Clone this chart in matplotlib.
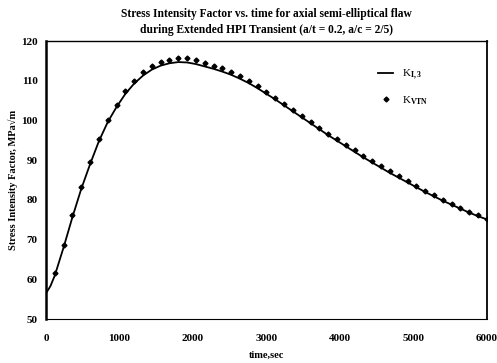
import numpy as np
import matplotlib
matplotlib.use("Agg")
import matplotlib.pyplot as plt

plt.rcParams["font.family"] = ["Liberation Serif", "DejaVu Serif"]
plt.rcParams["mathtext.fontset"] = "custom"
plt.rcParams["mathtext.rm"] = "Liberation Serif:bold"
plt.rcParams["mathtext.it"] = "Liberation Serif:bold"
plt.rcParams["mathtext.bf"] = "Liberation Serif:bold"

# K_I,3 curve (solid line)
line_t = [0, 60, 120, 240, 360, 480, 600, 720, 840, 960, 1080, 1200, 1320, 1440,
          1560, 1680, 1800, 1920, 2040, 2160, 2280, 2400, 2520, 2640, 2760, 2880,
          3000, 3120, 3240, 3360, 3480, 3600, 3720, 3840, 3960, 4080, 4200, 4320,
          4440, 4560, 4680, 4800, 4920, 5040, 5160, 5280, 5400, 5520, 5640, 5760,
          5880, 6000]
line_k = [56.5, 58.3, 61.0, 68.1, 75.7, 82.8, 89.0, 94.8, 99.6, 103.4, 106.7, 109.3,
          111.3, 112.8, 113.8, 114.4, 114.7, 114.6, 114.2, 113.6, 113.0, 112.3, 111.5,
          110.5, 109.4, 108.1, 106.7, 105.3, 103.8, 102.3, 100.8, 99.3, 97.8, 96.3,
          94.9, 93.5, 92.1, 90.7, 89.4, 88.1, 86.8, 85.6, 84.4, 83.2, 82.0, 80.9,
          79.8, 78.8, 77.8, 76.8, 75.9, 75.1]

# K_VTN points (markers)
pts_t = list(range(120, 6001, 120))
pts_k = [61.5, 68.6, 76.2, 83.3, 89.5, 95.3, 100.1, 103.9, 107.3, 110.0, 112.1, 113.7,
         114.6, 115.2, 115.6, 115.6, 115.1, 114.4, 113.8, 113.1, 112.2, 111.2, 110.0,
         108.7, 107.2, 105.7, 104.2, 102.7, 101.2, 99.7, 98.2, 96.7, 95.3, 93.9, 92.5,
         91.1, 89.8, 88.5, 87.2, 85.9, 84.7, 83.5, 82.3, 81.2, 80.1, 79.0, 78.0, 77.0,
         76.1, 75.3]

fig = plt.figure(figsize=(4.97, 3.63), dpi=100)
ax = fig.add_axes([0.0926, 0.121, 0.887, 0.766])

ax.plot(line_t, line_k, color="black", lw=1.3, label=r"K$_{I,3}$", zorder=2)
ax.plot(pts_t, pts_k, linestyle="none", marker="D", markersize=2.5,
        color="black", label=r"K$_{VTN}$", zorder=3)

ax.set_xlim(0, 6000)
ax.set_ylim(50, 120)
ax.set_xticks(np.arange(0, 6001, 1000))
ax.set_yticks(np.arange(50, 121, 10))
ax.tick_params(length=0, labelsize=8)
ax.tick_params(axis="x", pad=11)
ax.tick_params(axis="y", pad=6)
for lab in ax.get_xticklabels() + ax.get_yticklabels():
    lab.set_fontweight("bold")

for side, w in [("left", 1.8), ("right", 1.3), ("top", 1.0), ("bottom", 0.8)]:
    ax.spines[side].set_linewidth(w)

ax.set_xlabel("time,sec", fontsize=7.5, fontweight="bold", labelpad=5)
ax.set_ylabel("Stress Intensity Factor, MPa\u221am", fontsize=7.5,
              fontweight="bold", labelpad=2)
ax.set_title("Stress Intensity Factor vs. time for axial semi-elliptical flaw\n"
             "during Extended HPI Transient (a/t = 0.2, a/c = 2/5)",
             fontsize=8.3, fontweight="bold", pad=6, linespacing=1.4)

leg = ax.legend(loc="upper left", bbox_to_anchor=(0.73, 0.94), frameon=False,
                fontsize=8, handlelength=1.4, labelspacing=1.1)

fig.savefig("out.png", dpi=100)
